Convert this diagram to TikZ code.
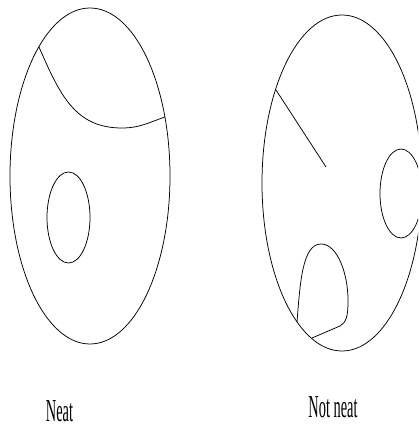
\documentclass[tikz,border=0pt]{standalone}
\usepackage{fontspec}
\setmainfont{Liberation Serif}
\usepackage{tikz}
\tikzset{
  outline/.style={
    draw,
    line width=0.75pt
  },
  caption/.style={
    anchor=base,
    inner sep=0pt,
    text depth=0pt,
    font=\fontsize{32}{38}\selectfont
  }
}
\newcommand{\narrowtext}[1]{\scalebox{0.45}[1]{#1}}

\begin{document}
\begin{tikzpicture}[x=1pt, y=-1pt]
  \clip (0,0) rectangle (418,425);
  % neat disc
  \draw[outline] (90,176) ellipse [x radius=80, y radius=168];
  \draw[outline] (68.5,217.5) ellipse [x radius=21.5, y radius=45.5];
  \draw[outline] (39,47) .. controls (60,95) and (75,128) .. (122,128)
    .. controls (140,128) and (150,122) .. (165,117);
  % not neat disc
  \draw[outline] (342,183) ellipse [x radius=80, y radius=168];
  \draw[outline] (401,193.5) ellipse [x radius=21, y radius=44.5];
  \coordinate (rim) at (276,90);
  \coordinate (tip) at (326,167);
  \draw[outline] (rim) -- (tip);
  \draw[outline] (297,322) .. controls (300,285) and (302,244) .. (321,244)
    .. controls (338,244) and (348,275) .. (348,300)
    .. controls (348,318) and (346,322) .. (340,326) -- (312,338);
  \node[caption] (neat) at (59.5,421) {\narrowtext{Neat}};
  \node[caption] (notneat) at (333,417) {\narrowtext{Not neat}};
\end{tikzpicture}
\end{document}
